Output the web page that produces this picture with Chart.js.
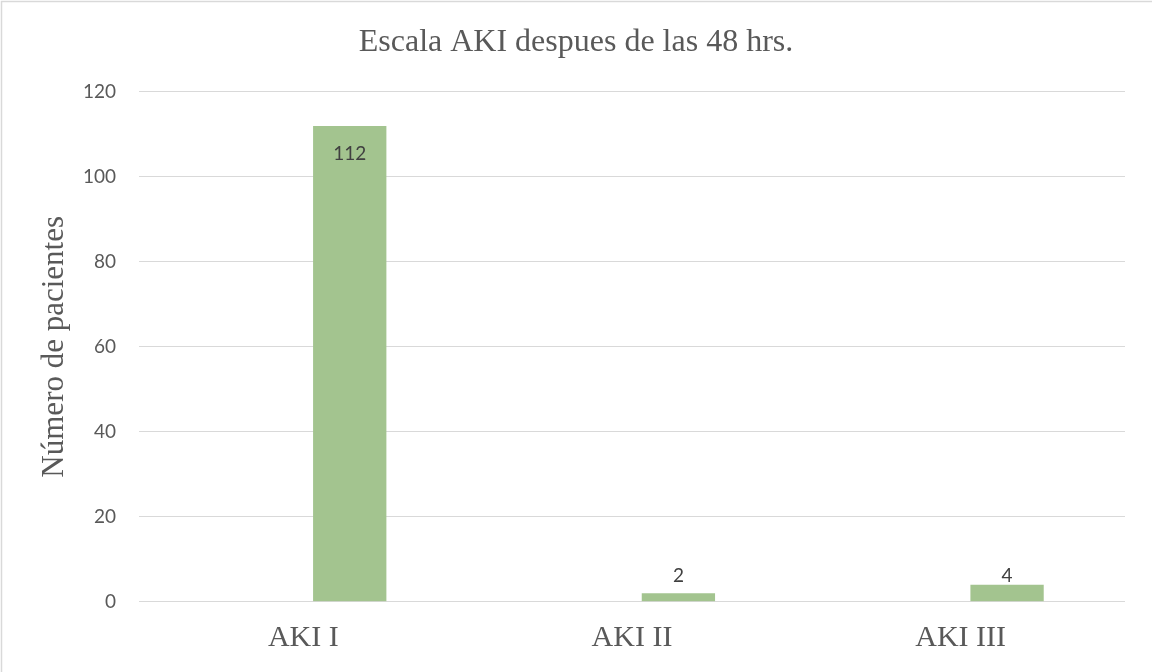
<!DOCTYPE html>
<html>
<head>
<meta charset="utf-8">
<title>Escala AKI despues de las 48 hrs.</title>
<script src="https://cdn.jsdelivr.net/npm/chart.js@4"></script>
<style>
  html, body { margin: 0; padding: 0; background: #fff; }
  canvas { display: block; }
</style>
</head>
<body>
<canvas id="aki" width="1152" height="672"></canvas>
<script>
// data
const categories = ['AKI I', 'AKI II', 'AKI III'];
const emptySeries = [null, null, null];   // Excel had an empty first series, bars sit on the right half
const pacientes = [112, 2, 4];
const yTicks = [0, 20, 40, 60, 80, 100, 120];

const GRID = '#d9d9d9';

// light frame round the chart (only top/left visible in the picture)
const frame = {
  id: 'frame',
  beforeDraw(chart) {
    const ctx = chart.ctx;
    ctx.save();
    ctx.fillStyle = '#fff';
    ctx.fillRect(0, 0, chart.width, chart.height);
    ctx.strokeStyle = GRID;
    ctx.lineWidth = 1.5;
    ctx.strokeRect(1.5, 1.5, chart.width + 10, chart.height + 10);
    ctx.restore();
  }
};

// value labels: inside end for tall bars, above for small ones
const valueLabels = {
  id: 'valueLabels',
  afterDatasetsDraw(chart) {
    const ctx = chart.ctx;
    const meta = chart.getDatasetMeta(1);
    ctx.save();
    ctx.font = '19px Lato';
    ctx.fillStyle = '#404040';
    ctx.textAlign = 'center';
    ctx.textBaseline = 'middle';
    meta.data.forEach((bar, i) => {
      const v = pacientes[i];
      if (v == null) return;
      let y;
      if (bar.base - bar.y > 40) y = bar.y + 27.5;
      else y = Math.min(bar.y - 8, bar.base - 25);
      ctx.fillText(String(v), bar.x, y);
    });
    ctx.restore();
  }
};

new Chart(document.getElementById('aki'), {
  type: 'bar',
  data: {
    labels: categories,
    datasets: [
      {
        label: '',
        data: emptySeries,
        backgroundColor: '#5b9bd5'
      },
      {
        label: 'Número de pacientes',
        data: pacientes,
        backgroundColor: '#a3c48f',
        borderWidth: 0
      }
    ]
  },
  options: {
    responsive: false,
    animation: false,
    categoryPercentage: 0.5647,
    barPercentage: 0.79,
    layout: { padding: 0 },
    plugins: {
      legend: { display: false },
      tooltip: { enabled: false },
      title: {
        display: true,
        text: 'Escala AKI despues de las 48 hrs.',
        color: '#595959',
        font: { family: 'Liberation Serif', size: 32, weight: 'normal', lineHeight: 1.2 },
        padding: { top: 23, bottom: 30.5 }
      }
    },
    scales: {
      x: {
        grid: { display: false, drawTicks: false },
        border: { display: false },
        ticks: {
          color: '#595959',
          font: { family: 'Liberation Serif', size: 30 },
          padding: 18,
          maxRotation: 0
        },
        afterFit(scale) { scale.height = 70.3; }
      },
      y: {
        min: 0,
        max: 120,
        afterBuildTicks(scale) { scale.ticks = yTicks.map(v => ({ value: v })); },
        grid: { color: GRID, lineWidth: 1, drawTicks: false },
        border: { display: false },
        ticks: {
          color: '#595959',
          font: { family: 'Lato', size: 19 },
          padding: 23
        },
        title: {
          display: true,
          text: 'Número de pacientes',
          color: '#595959',
          font: { family: 'Liberation Serif', size: 31, weight: 'normal', lineHeight: 1.2 },
          padding: { top: 36, bottom: 0 }
        },
        afterFit(scale) { scale.width = 139; }
      },
      // empty right margin so the title stays centred on the whole chart
      yRight: {
        position: 'right',
        grid: { display: false, drawTicks: false },
        border: { display: false },
        ticks: { display: false },
        afterFit(scale) { scale.width = 27; }
      }
    }
  },
  plugins: [frame, valueLabels]
});
</script>
</body>
</html>
